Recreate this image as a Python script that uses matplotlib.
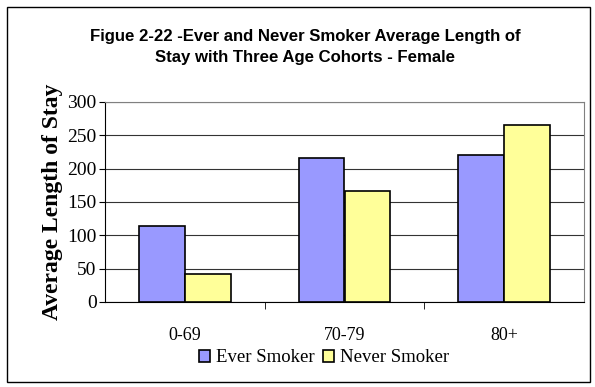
import matplotlib
matplotlib.use("Agg")
import matplotlib.pyplot as plt
import numpy as np
from matplotlib.patches import Rectangle

categories = ["0-69", "70-79", "80+"]
ever_smoker = [114, 216, 220]
never_smoker = [42, 166, 266]
series_names = ["Ever Smoker", "Never Smoker"]
title = "Figue 2-22 -Ever and Never Smoker Average Length of\nStay with Three Age Cohorts - Female"
ylabel = "Average Length of Stay"
yticks = [0, 50, 100, 150, 200, 250, 300]

serif = ["Liberation Serif", "DejaVu Serif"]
narrow = ["Liberation Sans Narrow", "Liberation Sans", "DejaVu Sans"]

fig = plt.figure(figsize=(5.95, 3.87), dpi=100)
fig.patch.set_facecolor("white")
# outer chart border
fig.add_artist(Rectangle((7 / 595, 5 / 387), 583 / 595, 375 / 387, transform=fig.transFigure,
                         fill=False, edgecolor="black", linewidth=1.0))

ax = fig.add_axes([105 / 595, 1 - 302 / 387, 479 / 595, 200 / 387])
x = np.arange(len(categories))
w = 0.288
ax.bar(x - w / 2, ever_smoker, w, color="#9999ff", edgecolor="black", linewidth=1.2,
       label=series_names[0], zorder=3)
ax.bar(x + w / 2, never_smoker, w, color="#ffff99", edgecolor="black", linewidth=1.2,
       label=series_names[1], zorder=3)

ax.set_xlim(-0.5, 2.5)
ax.set_ylim(0, 300)
ax.set_yticks(yticks)
ax.set_yticklabels([str(t) for t in yticks], family=serif, fontsize=14)
ax.yaxis.grid(True, color="#333333", linewidth=0.8, zorder=0)
ax.set_axisbelow(True)

ax.set_xticks(x)
ax.set_xticklabels(categories, family=serif, fontsize=13)
ax.tick_params(axis="x", length=0, pad=18)
ax.set_xticks([0.5, 1.5], minor=True)
ax.tick_params(axis="x", which="minor", length=5, direction="out", color="black")
ax.tick_params(axis="y", length=4, direction="out", pad=2)

for side in ["top", "right"]:
    ax.spines[side].set_color("#808080")
    ax.spines[side].set_linewidth(0.8)
ax.spines["left"].set_color("black")
ax.spines["bottom"].set_color("black")

ax.set_ylabel(ylabel, family=serif, fontsize=17, fontweight="bold", labelpad=3)
fig.text(305 / 595, 1 - 47 / 387, title, ha="center", va="center", family=narrow,
         fontsize=12.1, fontweight="bold", linespacing=1.55)

leg = fig.legend(loc="center", bbox_to_anchor=(324 / 595, 1 - 358 / 387), ncol=2,
                 frameon=False, prop={"family": serif, "size": 13.5},
                 handlelength=0.6, handleheight=0.6, handletextpad=0.35, columnspacing=0.4,
                 borderpad=0)

fig.savefig("out.png", dpi=100, facecolor="white")
